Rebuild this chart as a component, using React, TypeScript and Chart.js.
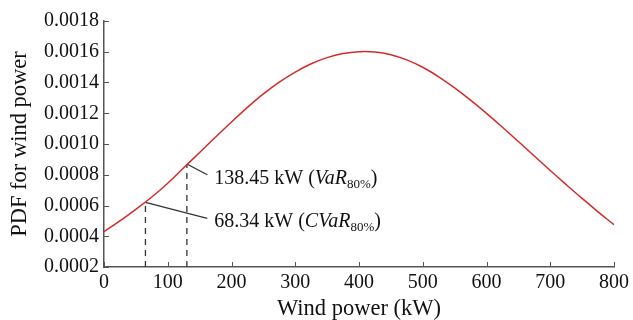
import React, { useEffect, useRef } from "react";
import { Chart, registerables } from "chart.js";

Chart.register(...registerables);

// Wind power (kW) sample positions
const windPower = [0, 25, 50, 75, 100, 125, 150, 175, 200, 225, 250, 275, 300, 325, 350, 375, 400, 425, 450, 475, 500, 525, 550, 575, 600, 625, 650, 675, 700, 725, 750, 775, 800];
// PDF values
const pdfValues = [0.00043, 0.0005, 0.000575, 0.000655, 0.000745, 0.000845, 0.000945, 0.001045, 0.001143, 0.001238, 0.001326, 0.001403, 0.001468, 0.001522, 0.001562, 0.001588, 0.0016, 0.001598, 0.001581, 0.001547, 0.001499, 0.001437, 0.001365, 0.001285, 0.001199, 0.001109, 0.001016, 0.000922, 0.000828, 0.000736, 0.000646, 0.000559, 0.000475];

// Marked points (x position as drawn, y on curve)
const markerX = [65, 130];
const markerY = [0.00062, 0.00087];
// Leader line ends
const leaderEndX = [162, 162];
const leaderEndY = [0.000517, 0.0008];
// Annotation labels
const markerValues = ["68.34 kW (", "138.45 kW ("];
const markerNames = ["CVaR", "VaR"];
const markerSub = "80%";
const labelX = 173;
const labelY = [0.00046, 0.00074];

const xMin = 0, xMax = 800, xStep = 100;
const yMin = 0.0002, yMax = 0.0018, yStep = 0.0002;

const FONT = '"Liberation Serif", "Times New Roman", serif';

const tickPlugin = {
  id: "inwardTicks",
  afterDraw(chart: any) {
    const { ctx, chartArea, scales } = chart;
    const xs = scales.x, ys = scales.y;
    ctx.save();
    ctx.strokeStyle = "#555";
    ctx.lineWidth = 1;
    for (let v = xMin; v <= xMax + 1e-9; v += xStep) {
      const px = Math.round(xs.getPixelForValue(v)) + 0.5;
      ctx.beginPath();
      ctx.moveTo(px, chartArea.bottom);
      ctx.lineTo(px, chartArea.bottom - 5);
      ctx.stroke();
    }
    for (let i = 0; i <= Math.round((yMax - yMin) / yStep); i++) {
      const v = yMin + i * yStep;
      const py = Math.round(ys.getPixelForValue(v)) + 0.5;
      ctx.beginPath();
      ctx.moveTo(chartArea.left, py);
      ctx.lineTo(chartArea.left + 5, py);
      ctx.stroke();
    }
    // annotation text
    ctx.fillStyle = "#111";
    ctx.textBaseline = "alphabetic";
    ctx.textAlign = "left";
    for (let i = 0; i < markerValues.length; i++) {
      let cx = xs.getPixelForValue(labelX);
      const by = ys.getPixelForValue(labelY[i]);
      const parts = [
        { t: markerValues[i], f: `20px ${FONT}`, dy: 0 },
        { t: markerNames[i], f: `italic 20px ${FONT}`, dy: 0 },
        { t: markerSub, f: `13px ${FONT}`, dy: 4 },
        { t: ")", f: `20px ${FONT}`, dy: 0 },
      ];
      for (const p of parts) {
        ctx.font = p.f;
        ctx.fillText(p.t, cx, by + p.dy);
        cx += ctx.measureText(p.t).width;
      }
    }
    ctx.restore();
  },
};

export default function App() {
  const ref = useRef<HTMLCanvasElement | null>(null);
  useEffect(() => {
    if (!ref.current) return;
    const curve = windPower.map((x, i) => ({ x, y: pdfValues[i] }));
    const dashed = markerX.map((x, i) => ({
      data: [{ x, y: yMin }, { x, y: markerY[i] }],
      borderColor: "#333",
      borderWidth: 1.3,
      borderDash: [6, 5],
      pointRadius: 0,
      tension: 0,
    }));
    const leaders = markerX.map((x, i) => ({
      data: [{ x, y: markerY[i] }, { x: leaderEndX[i], y: leaderEndY[i] }],
      borderColor: "#333",
      borderWidth: 1.3,
      pointRadius: 0,
      tension: 0,
    }));
    const chart = new Chart(ref.current, {
      type: "line",
      data: {
        datasets: [
          {
            data: curve,
            borderColor: "#d42a2a",
            borderWidth: 1.5,
            pointRadius: 0,
            tension: 0.4,
          } as any,
          ...(dashed as any[]),
          ...(leaders as any[]),
        ],
      },
      options: {
        responsive: false,
        animation: false,
        devicePixelRatio: 1,
        layout: { padding: { left: 0, right: 17, top: 21, bottom: 0 } },
        plugins: { legend: { display: false }, tooltip: { enabled: false } },
        scales: {
          x: {
            type: "linear",
            min: xMin,
            max: xMax,
            afterFit: (s: any) => { s.height = 53; },
            ticks: { stepSize: xStep, color: "#111", font: { family: FONT, size: 20 }, padding: 4, maxRotation: 0 },
            grid: { drawOnChartArea: false, drawTicks: false },
            border: { display: true, color: "#555", width: 1.5 },
            title: { display: true, text: "Wind power (kW)", color: "#111", font: { family: FONT, size: 22.5, lineHeight: 1 }, padding: { top: 0, bottom: 0 } },
          },
          y: {
            type: "linear",
            min: yMin,
            max: yMax,
            afterFit: (s: any) => { s.width = 104; },
            ticks: {
              stepSize: yStep,
              color: "#111",
              font: { family: FONT, size: 20 },
              padding: 5,
              callback: (v: any) => Number(v).toFixed(4),
            },
            grid: { drawOnChartArea: false, drawTicks: false },
            border: { display: true, color: "#555", width: 1.5 },
            title: { display: true, text: "PDF for wind power", color: "#111", font: { family: FONT, size: 22.5, lineHeight: 1 }, padding: { top: 9, bottom: 0 } },
          },
        },
      } as any,
      plugins: [tickPlugin],
    });
    return () => chart.destroy();
  }, []);
  return (
    <div style={{ position: "absolute", left: 0, top: 0, width: 633, height: 320, background: "#fff" }}>
      <canvas ref={ref} width={633} height={320} />
    </div>
  );
}
